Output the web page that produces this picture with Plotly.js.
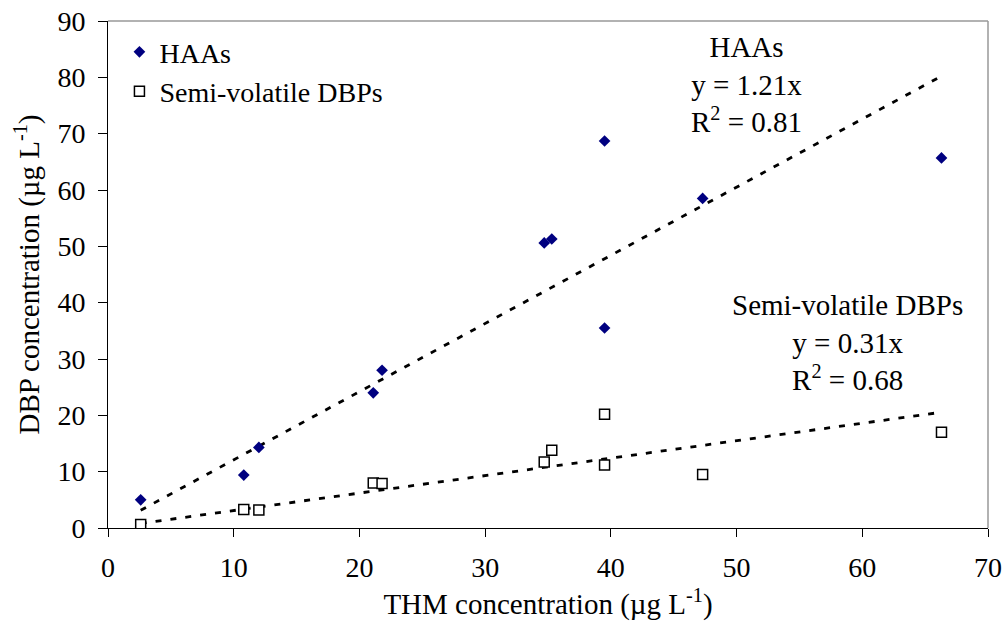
<!DOCTYPE html>
<html>
<head>
<meta charset="utf-8">
<script src="https://cdn.plot.ly/plotly-3.0.1.min.js"></script>
<style>
html,body{margin:0;padding:0;background:#fff;}
#chart{width:1008px;height:623px;}
</style>
</head>
<body>
<div id="chart"></div>
<script>
// THM concentration (x) for each sample
const thm = [2.6, 10.8, 12.0, 21.1, 21.8, 34.7, 35.3, 39.5, 39.5, 47.3, 66.3];
// HAAs concentration
const haas = [5.0, 9.4, 14.3, 24.0, 28.0, 50.6, 51.3, 35.5, 68.7, 58.5, 65.7];
// Semi-volatile DBPs concentration
const semi = [0.6, 3.3, 3.2, 8.0, 7.9, 11.7, 13.8, 11.2, 20.2, 9.5, 17.0];
// Fitted slopes (linear through origin)
const slopeHAAs = 1.21;
const slopeSemi = 0.31;
const xTicks = [0, 10, 20, 30, 40, 50, 60, 70];
const yTicks = [0, 10, 20, 30, 40, 50, 60, 70, 80, 90];

const xMin = Math.min(...thm), xMax = Math.max(...thm);
const fitX = [xMin, xMax];

const FONT = "Liberation Serif, Times New Roman, serif";
const dashPat = "6px,9px";

const traces = [
  {x: fitX, y: fitX.map(v => slopeHAAs * v), mode: 'lines', showlegend: false, hoverinfo: 'skip',
   line: {color: '#000', width: 2.8, dash: dashPat}},
  {x: fitX, y: fitX.map(v => slopeSemi * v), mode: 'lines', showlegend: false, hoverinfo: 'skip',
   line: {color: '#000', width: 2.8, dash: dashPat}},
  {x: thm, y: haas, mode: 'markers', name: 'HAAs', type: 'scatter',
   marker: {symbol: 'diamond', size: 9, color: '#000080', line: {width: 0}}},
  {x: thm, y: semi, mode: 'markers', name: 'Semi-volatile DBPs', type: 'scatter',
   marker: {symbol: 'square', size: 10, color: '#ffffff', line: {color: '#000', width: 1.5}}}
];

const layout = {
  width: 1008, height: 623,
  margin: {l: 108, r: 20, t: 21, b: 95},
  paper_bgcolor: '#fff', plot_bgcolor: '#fff',
  font: {family: FONT, size: 28, color: '#000'},
  showlegend: true,
  legend: {x: 0.013, y: 0.988, xanchor: 'left', yanchor: 'top', bgcolor: 'rgba(0,0,0,0)',
           font: {family: FONT, size: 28, color: '#000'}, tracegroupgap: 0, itemwidth: 30},
  xaxis: {
    range: [0, 70], tickvals: xTicks, ticktext: xTicks.map(String),
    showgrid: false, zeroline: false, showline: true, linecolor: '#000', linewidth: 1,
    ticks: 'outside', ticklen: 8, tickcolor: '#000', tickwidth: 1, ticklabelstandoff: 6,
    tickfont: {family: FONT, size: 28, color: '#000'},
    title: {text: 'THM concentration (µg L<sup>-1</sup>)', font: {family: FONT, size: 29, color: '#000'}, standoff: 12}
  },
  yaxis: {
    range: [0, 90], tickvals: yTicks, ticktext: yTicks.map(String),
    showgrid: false, zeroline: false, showline: true, linecolor: '#000', linewidth: 1,
    ticks: 'outside', ticklen: 9, tickcolor: '#000', tickwidth: 1, ticklabelstandoff: 7,
    tickfont: {family: FONT, size: 28, color: '#000'},
    title: {text: 'DBP concentration (µg L<sup>-1</sup>)', font: {family: FONT, size: 29, color: '#000'}, standoff: 9}
  },
  shapes: [
    {type: 'line', xref: 'paper', yref: 'paper', x0: 0, x1: 1, y0: 1, y1: 1, line: {color: '#999', width: 1.5}},
    {type: 'line', xref: 'paper', yref: 'paper', x0: 1, x1: 1, y0: 0, y1: 1, line: {color: '#999', width: 1.5}}
  ],
  annotations: [
    {xref: 'x', yref: 'y', x: 50.8, y: 78.8, text: 'HAAs<br>y = 1.21x<br>R<sup>2</sup> = 0.81',
     showarrow: false, align: 'center', xanchor: 'center', yanchor: 'middle',
     font: {family: FONT, size: 29, color: '#000'}},
    {xref: 'x', yref: 'y', x: 58.8, y: 32.9, text: 'Semi-volatile DBPs<br>y = 0.31x<br>R<sup>2</sup> = 0.68',
     showarrow: false, align: 'center', xanchor: 'center', yanchor: 'middle',
     font: {family: FONT, size: 29, color: '#000'}}
  ]
};

Plotly.newPlot('chart', traces, layout, {displayModeBar: false, staticPlot: true});
</script>
</body>
</html>
